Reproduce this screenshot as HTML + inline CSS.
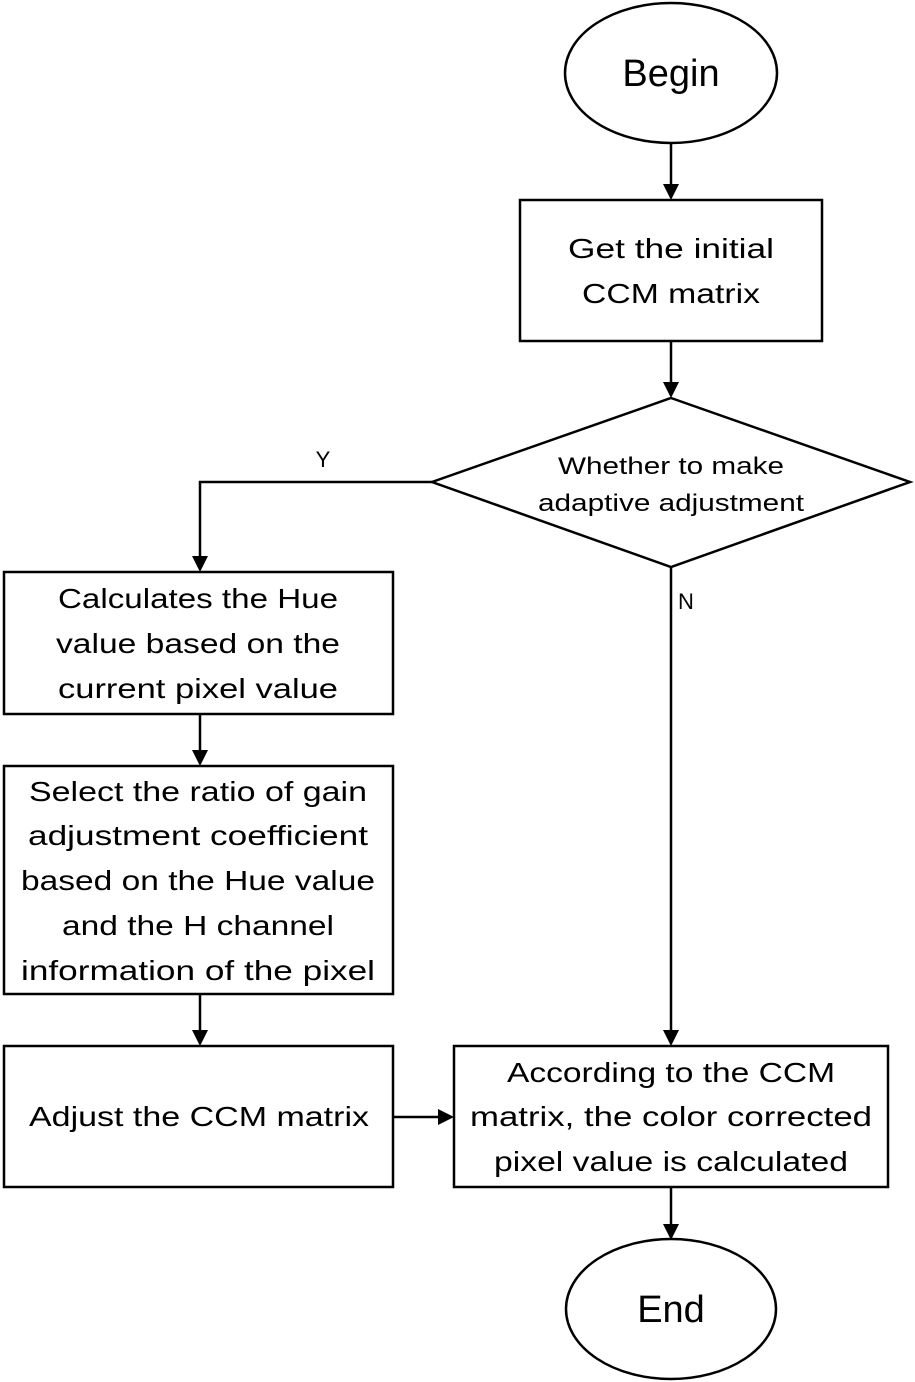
<!DOCTYPE html>
<html><head><meta charset="utf-8"><style>
html,body{margin:0;padding:0;background:#fff;}
svg{display:block;}
text{font-family:"Liberation Sans",sans-serif;fill:#000;}
</style></head><body>
<svg width="915" height="1382" viewBox="0 0 915 1382" xmlns="http://www.w3.org/2000/svg">
<defs><marker id="a" markerWidth="10" markerHeight="10" refX="9" refY="5" orient="auto" markerUnits="userSpaceOnUse"><path d="M0,0 L10,5 L0,10 Z" fill="#000" transform="scale(1.4) translate(-3.5,-1.4)"/></marker></defs>
<g stroke="#000" stroke-width="2.5" fill="none">
<ellipse cx="671" cy="73" rx="106" ry="70"/>
<rect x="520" y="200" width="302" height="141"/>
<polygon points="671,398 910,482 671,567 432,482"/>
<rect x="4" y="572" width="389" height="142"/>
<rect x="4" y="766" width="389" height="228"/>
<rect x="4" y="1046" width="389" height="141"/>
<rect x="454" y="1046" width="434" height="141"/>
<ellipse cx="671" cy="1309" rx="105" ry="70"/>
<line x1="671" y1="143" x2="671" y2="186"/>
<line x1="671" y1="341" x2="671" y2="384"/>
<polyline points="432,482 200,482 200,558"/>
<line x1="200" y1="714" x2="200" y2="752"/>
<line x1="200" y1="994" x2="200" y2="1032"/>
<line x1="393" y1="1117" x2="440" y2="1117"/>
<line x1="671" y1="567" x2="671" y2="1032"/>
<line x1="671" y1="1187" x2="671" y2="1226"/>
</g>
<g fill="#000">
<polygon points="663,184 679,184 671,200"/>
<polygon points="663,382 679,382 671,398"/>
<polygon points="192,556 208,556 200,572"/>
<polygon points="192,750 208,750 200,766"/>
<polygon points="192,1030 208,1030 200,1046"/>
<polygon points="438,1109 438,1125 454,1117"/>
<polygon points="663,1030 679,1030 671,1046"/>
<polygon points="663,1224 679,1224 671,1240"/>
</g>
<g text-anchor="middle" font-size="28">
<text x="671" y="86" font-size="38">Begin</text>
<text x="671" y="258" textLength="206" lengthAdjust="spacingAndGlyphs">Get the initial</text>
<text x="671" y="303" textLength="178" lengthAdjust="spacingAndGlyphs">CCM matrix</text>
<text x="671" y="474" font-size="24" textLength="226" lengthAdjust="spacingAndGlyphs">Whether to make</text>
<text x="671" y="511" font-size="24" textLength="266" lengthAdjust="spacingAndGlyphs">adaptive adjustment</text>
<text x="323" y="467" font-size="22">Y</text>
<text x="686" y="609" font-size="22">N</text>
<text x="198" y="608" textLength="280" lengthAdjust="spacingAndGlyphs">Calculates the Hue</text>
<text x="198" y="653" textLength="284" lengthAdjust="spacingAndGlyphs">value based on the</text>
<text x="198" y="698" textLength="280" lengthAdjust="spacingAndGlyphs">current pixel value</text>
<text x="198" y="801" textLength="338" lengthAdjust="spacingAndGlyphs">Select the ratio of gain</text>
<text x="198" y="845" textLength="340" lengthAdjust="spacingAndGlyphs">adjustment coefficient</text>
<text x="198" y="890" textLength="354" lengthAdjust="spacingAndGlyphs">based on the Hue value</text>
<text x="198" y="935" textLength="272" lengthAdjust="spacingAndGlyphs">and the H channel</text>
<text x="198" y="980" textLength="354" lengthAdjust="spacingAndGlyphs">information of the pixel</text>
<text x="199" y="1126" textLength="340" lengthAdjust="spacingAndGlyphs">Adjust the CCM matrix</text>
<text x="671" y="1082" textLength="328" lengthAdjust="spacingAndGlyphs">According to the CCM</text>
<text x="671" y="1126" textLength="402" lengthAdjust="spacingAndGlyphs">matrix, the color corrected</text>
<text x="671" y="1171" textLength="354" lengthAdjust="spacingAndGlyphs">pixel value is calculated</text>
<text x="671" y="1322" font-size="38">End</text>
</g>
</svg>
</body></html>
